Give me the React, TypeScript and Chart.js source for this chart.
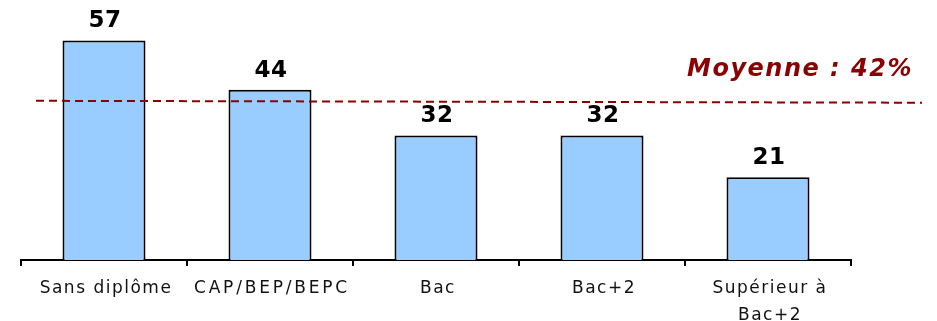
import React, { useEffect, useRef } from "react";
import { Chart, registerables } from "chart.js";

Chart.register(...registerables);

const categories: string[][] = [["Sans diplôme"], ["CAP/BEP/BEPC"], ["Bac"], ["Bac+2"], ["Supérieur à", "Bac+2"]];
const values: number[] = [57, 44, 32, 32, 21];
const meanValue = 42;
const meanLineLevel: number[] = [41.1, 40.6]; // drawn level (left, right)
const meanLabel = "Moyenne : 42%";
const axisMin = -0.8;
const axisMax = 60;

export default function App() {
  const ref = useRef<HTMLCanvasElement | null>(null);
  useEffect(() => {
    if (!ref.current) return;
    const overlay = {
      id: "overlay",
      afterDraw(chart: any) {
        const { ctx, scales, chartArea } = chart;
        const y = scales.y;
        const x = scales.x;
        const meta = chart.getDatasetMeta(0);
        ctx.save();
        // category labels
        ctx.fillStyle = "#111";
        ctx.font = "17px 'DejaVu Sans'";
        ctx.textAlign = "center";
        ctx.textBaseline = "alphabetic";
        categories.forEach((lines, i) => {
          const cx = x.getPixelForValue(i) + 2;
          (ctx as any).letterSpacing = /^[A-Z/]+$/.test(lines[0]) ? "2.8px" : "1.5px";
          lines.forEach((ln, j) => {
            ctx.fillText(ln, cx, chartArea.bottom + 33 + j * 27);
          });
        });
        // value labels
        ctx.fillStyle = "#000";
        ctx.font = "bold 23px 'DejaVu Sans'";
        (ctx as any).letterSpacing = "0.5px";
        meta.data.forEach((bar: any, i: number) => {
          ctx.fillText(String(values[i]), bar.x + 1, bar.y - 13);
        });
        (ctx as any).letterSpacing = "0px";
        // mean line
        const x0 = chartArea.left + 15;
        const x1 = chart.width - 15;
        ctx.strokeStyle = "#8B0000";
        ctx.lineWidth = 2;
        ctx.setLineDash([8, 5]);
        ctx.beginPath();
        ctx.moveTo(x0, y.getPixelForValue(meanLineLevel[0]));
        ctx.lineTo(x1, y.getPixelForValue(meanLineLevel[1]));
        ctx.stroke();
        ctx.setLineDash([]);
        // mean label
        ctx.fillStyle = "#8B0000";
        ctx.font = "italic bold 24px 'DejaVu Sans'";
        ctx.textAlign = "right";
        (ctx as any).letterSpacing = "1.5px";
        ctx.fillText(meanLabel, 913, y.getPixelForValue(meanValue) - 21);
        ctx.restore();
      },
    };
    const chart = new Chart(ref.current, {
      type: "bar",
      data: {
        labels: categories.map((c) => c.join(" ")),
        datasets: [
          {
            data: values,
            base: axisMin,
            backgroundColor: "#99CCFF",
            borderColor: "#000",
            borderWidth: 2,
            borderSkipped: "bottom",
            barPercentage: 0.5,
            categoryPercentage: 1,
          },
        ],
      },
      options: {
        animation: false,
        responsive: false,
        layout: { padding: { top: 29, left: 21, right: 86, bottom: 55 } },
        plugins: { legend: { display: false }, tooltip: { enabled: false } },
        scales: {
          y: { display: false, min: axisMin, max: axisMax },
          x: {
            offset: true,
            border: { display: true, color: "#000", width: 2 },
            grid: {
              display: true,
              offset: true,
              drawOnChartArea: false,
              drawTicks: true,
              tickLength: 6,
              color: "#000",
              lineWidth: 2,
            },
            ticks: { display: false },
          },
        },
      },
      plugins: [overlay],
    });
    return () => chart.destroy();
  }, []);
  return (
    <div style={{ position: "fixed", left: 0, top: 0, width: 937, height: 321, background: "#fff" }}>
      <canvas ref={ref} width={937} height={321} />
    </div>
  );
}
